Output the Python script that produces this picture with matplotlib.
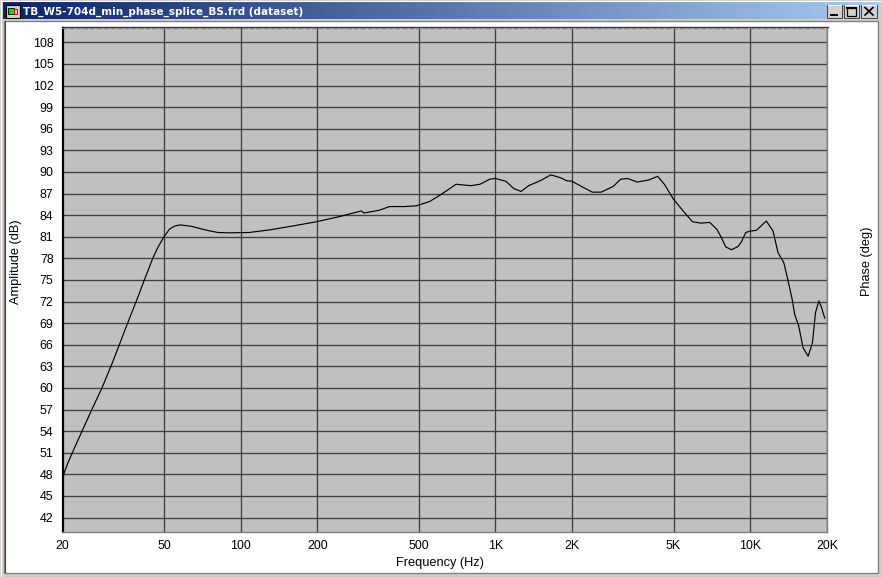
import numpy as np
import matplotlib
matplotlib.use("Agg")
import matplotlib.pyplot as plt
from matplotlib.patches import Rectangle
from matplotlib.colors import LinearSegmentedColormap
from matplotlib.ticker import NullLocator

W, H = 882, 577
title = "TB_W5-704d_min_phase_splice_BS.frd (dataset)"

freq = [20, 20.3, 21, 22.3, 24, 26.06, 28.4, 31.06, 33.5, 36.1, 39.2, 42, 45.2, 47.3, 50, 52.6, 55.1, 58, 63,
        65, 70, 75, 81.4, 90, 108, 130, 160, 199, 244, 298, 304, 351, 384, 440, 489, 552, 600, 650,
        700, 800, 870, 950, 1000, 1100, 1180, 1260, 1350, 1500, 1650, 1800, 1900, 2000, 2200,
        2400, 2600, 2900, 3100, 3300, 3600, 4000, 4330, 4600, 5000, 5450, 5925, 6400, 6930, 7410,
        7700, 8010, 8430, 8950, 9230, 9600, 10000, 10570, 11560, 12280, 12850, 13540, 14070,
        14640, 14930, 15490, 16110, 16870, 17540, 18030, 18580, 19030, 19600]
amp = [47.3, 48.2, 49.6, 51.7, 54.2, 57.0, 59.8, 63.1, 66.1, 69.1, 72.3, 75.1, 78, 79.5, 81, 82.06, 82.5, 82.65, 82.5,
       82.4, 82.1, 81.85, 81.6, 81.55, 81.6, 81.96, 82.5, 83.1, 83.8, 84.6, 84.3, 84.7, 85.2, 85.2, 85.3, 85.9,
       86.7, 87.5, 88.3, 88.1, 88.3, 89.0, 89.1,
       88.7, 87.7, 87.3, 88.1, 88.8, 89.6, 89.2, 88.8, 88.7, 87.9, 87.2, 87.2, 88.0, 89.0, 89.1,
       88.6, 88.9, 89.4, 88.3, 86.2, 84.6, 83.1, 82.9, 83.0, 82.0, 80.9, 79.6, 79.2, 79.65, 80.3,
       81.6, 81.8, 81.9, 83.2, 81.8, 78.8, 77.4, 74.9, 72.1, 70.25, 68.6, 65.6, 64.4, 66.3, 70.5,
       72.1, 71.2, 69.7]
y_ticks = list(range(42, 109, 3))
x_ticks = [20, 50, 100, 200, 500, 1000, 2000, 5000, 10000, 20000]
x_labels = ["20", "50", "100", "200", "500", "1K", "2K", "5K", "10K", "20K"]

fig = plt.figure(figsize=(W / 100, H / 100), dpi=100, facecolor="#d4d0c8")
font = ["Liberation Sans", "DejaVu Sans"]

# window chrome, in pixel coordinates
bg = fig.add_axes([0, 0, 1, 1], zorder=0)
bg.set_xlim(0, W); bg.set_ylim(H, 0); bg.axis("off")
bg.add_patch(Rectangle((0, 0), W, H, fc="#d4d0c8", ec="none"))
bg.plot([0.5, 0.5], [0, H], color="white", lw=0.8)
bg.plot([0, W], [0.5, 0.5], color="white", lw=0.8)
bg.plot([W - 0.5, W - 0.5], [0, H], color="#404040", lw=0.8)
bg.plot([0, W], [H - 0.5, H - 0.5], color="#404040", lw=0.8)
bg.add_patch(Rectangle((4, 21), 873.5, 551.5, fc="white", ec="#808080", lw=1))
bg.plot([4.5, 4.5], [21, 572], color="#404040", lw=0.8)
cmap = LinearSegmentedColormap.from_list("tb", ["#0a246a", "#a6caf0"])
bg.imshow(np.linspace(0, 1, 256)[None, :], extent=(3, 879, 19.5, 3), cmap=cmap, aspect="auto", zorder=1)
bg.set_xlim(0, W); bg.set_ylim(H, 0)
bg.add_patch(Rectangle((6, 5), 14, 13, fc="#d4d0c8", ec="black", lw=0.8, zorder=2))
bg.add_patch(Rectangle((8, 8), 6, 6, fc="#00e000", ec="black", lw=0.6, zorder=3))
bg.add_patch(Rectangle((14, 9), 3, 5, fc="#d4d0c8", ec="#e00000", lw=0.7, zorder=3))
bg.text(23, 11.5, title, color="white", fontsize=7.5, fontweight="bold", family="DejaVu Sans",
        va="center", ha="left", zorder=3)
for x0, x1 in [(827, 842), (844, 859), (861, 877)]:
    bg.add_patch(Rectangle((x0, 4.5), x1 - x0, 13.5, fc="#d4d0c8", ec="#404040", lw=0.7, zorder=2))
    bg.plot([x0 + 0.5, x1 - 1], [5.3, 5.3], color="white", lw=0.7, zorder=3)
bg.plot([831, 837], [14.5, 14.5], color="black", lw=1.4, zorder=4)
bg.add_patch(Rectangle((847, 7.5), 9, 8, fc="none", ec="black", lw=0.9, zorder=4))
bg.plot([847, 856], [8, 8], color="black", lw=1.4, zorder=4)
bg.plot([865, 873], [7.5, 15], color="black", lw=1.2, zorder=4)
bg.plot([865, 873], [15, 7.5], color="black", lw=1.2, zorder=4)

# plot
L, R, T, B = 62.5, 827, 28, 532
ax = fig.add_axes([L / W, 1 - B / H, (R - L) / W, (B - T) / H], zorder=2, facecolor="#c0c0c0")
ax.set_xscale("log")
ax.set_xlim(20, 20000)
ax.set_ylim(40, 110)
ax.xaxis.set_minor_locator(NullLocator())
ax.set_xticks(x_ticks, x_labels, fontsize=8.9, family=font, color="black")
ax.set_yticks(y_ticks, [str(v) for v in y_ticks], fontsize=8.9, family=font, color="black")
ax.tick_params(axis="y", length=0, pad=6.5)
ax.tick_params(axis="x", length=0, pad=5.5)
ax.grid(True, color="#404040", lw=0.95, zorder=1)
ax.set_axisbelow(True)
ax.plot(freq, amp, color="black", lw=0.85, zorder=3, solid_joinstyle="round")

ax.spines["left"].set(color="black", lw=1.6)
ax.spines["top"].set(color="#808080", lw=1.0, linestyle=(0, (3, 2)))
ax.spines["right"].set(color="#808080", lw=1.0)
ax.spines["bottom"].set(color="#808080", lw=1.0)

bg.plot([L - 1, R + 1], [26.8, 26.8], color="#303030", lw=1.0, zorder=5)
bg.text(440, 563, "Frequency (Hz)", fontsize=9.2, family=font, ha="center", va="center", zorder=5)
bg.text(16.5, 262, "Amplitude (dB)", fontsize=9.2, family=font, ha="center", va="center", rotation=90, zorder=5)
bg.text(867, 261.5, "Phase (deg)", fontsize=9.2, family=font, ha="center", va="center", rotation=90, zorder=5)

fig.savefig("out.png", dpi=100, facecolor=fig.get_facecolor())
